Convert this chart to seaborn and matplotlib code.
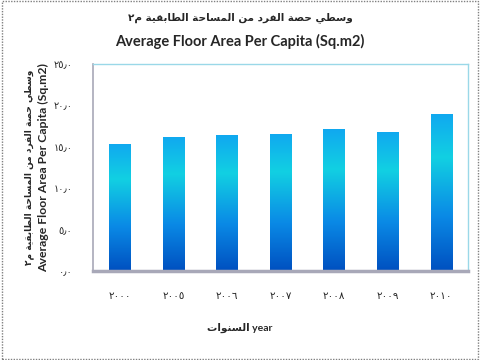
import numpy as np
import pandas as pd
import seaborn as sns
import matplotlib.pyplot as plt
from matplotlib.colors import LinearSegmentedColormap

# data
years = ['2000', '2005', '2006', '2007', '2008', '2009', '2010']
floor_area = [15.4, 16.2, 16.4, 16.6, 17.1, 16.8, 19.0]
y_ticks = [0, 5, 10, 15, 20, 25]

title_ar = 'وسطي حصة الفرد من المساحة الطابقية م٢'
title_en = 'Average Floor Area Per Capita (Sq.m2)'
xlabel_ar = 'السنوات'

# minimal arabic shaping (matplotlib has no complex text layout)
FORMS = {  # isolated, final, initial, medial
    'ا': (0xFE8D, 0xFE8E, None, None), 'ب': (0xFE8F, 0xFE90, 0xFE91, 0xFE92),
    'ة': (0xFE93, 0xFE94, None, None), 'ت': (0xFE95, 0xFE96, 0xFE97, 0xFE98),
    'ح': (0xFEA1, 0xFEA2, 0xFEA3, 0xFEA4), 'د': (0xFEA9, 0xFEAA, None, None),
    'ر': (0xFEAD, 0xFEAE, None, None), 'س': (0xFEB1, 0xFEB2, 0xFEB3, 0xFEB4),
    'ص': (0xFEB9, 0xFEBA, 0xFEBB, 0xFEBC), 'ط': (0xFEC1, 0xFEC2, 0xFEC3, 0xFEC4),
    'ف': (0xFED1, 0xFED2, 0xFED3, 0xFED4), 'ق': (0xFED5, 0xFED6, 0xFED7, 0xFED8),
    'ل': (0xFEDD, 0xFEDE, 0xFEDF, 0xFEE0), 'م': (0xFEE1, 0xFEE2, 0xFEE3, 0xFEE4),
    'ن': (0xFEE5, 0xFEE6, 0xFEE7, 0xFEE8), 'و': (0xFEED, 0xFEEE, None, None),
    'ي': (0xFEF1, 0xFEF2, 0xFEF3, 0xFEF4),
}


def shape(text):
    out = []
    for i, ch in enumerate(text):
        if ch not in FORMS:
            out.append(ch)
            continue
        prev = text[i - 1] if i > 0 else ''
        nxt = text[i + 1] if i + 1 < len(text) else ''
        joins_prev = prev in FORMS and FORMS[prev][2] is not None
        joins_next = nxt in FORMS and FORMS[ch][2] is not None
        iso, fin, ini, med = FORMS[ch]
        if joins_prev and joins_next:
            code = med
        elif joins_prev:
            code = fin
        elif joins_next:
            code = ini
        else:
            code = iso
        out.append(chr(code))
    return ''.join(out)[::-1]


AR_DIGITS = str.maketrans('0123456789.', '٠١٢٣٤٥٦٧٨٩٫')

df = pd.DataFrame({'year': years, 'area': floor_area})

sns.set_style('white')
plt.rcParams['font.family'] = ['Lato', 'DejaVu Sans']

fig = plt.figure(figsize=(4.8, 3.6), dpi=100)
ax = fig.add_axes([0.194, 0.247, 0.781, 0.575])

sns.barplot(data=df, x='year', y='area', width=0.4, color='#00a0e8', ax=ax)

# gradient fill clipped to each bar
cmap = LinearSegmentedColormap.from_list(
    'bar', [(0.0, '#0050c0'), (0.35, '#0a8ae6'), (0.72, '#12d0e2'), (1.0, '#10a8f0')])
grad = np.linspace(0, 1, 256).reshape(-1, 1)
for patch in ax.patches:
    x0, y0 = patch.get_x(), patch.get_y()
    w, h = patch.get_width(), patch.get_height()
    patch.set_facecolor('none')
    patch.set_edgecolor('none')
    img = ax.imshow(grad, cmap=cmap, origin='lower', aspect='auto',
                    extent=[x0, x0 + w, y0, y0 + h], zorder=2)
    img.set_clip_path(patch)

ax.set_xlim(-0.5, len(years) - 0.5)
ax.set_ylim(0, 25)
ax.set_yticks(y_ticks)
ax.set_yticklabels([f'{v:.1f}'.translate(AR_DIGITS) for v in y_ticks],
                   fontsize=7, family='DejaVu Sans')
ax.set_xticks(range(len(years)))
ax.set_xticklabels([y.translate(AR_DIGITS) for y in years], fontsize=7.5,
                   family='DejaVu Sans')
ax.tick_params(axis='y', pad=12, length=3, color='#a0a0a0', direction='out')
ax.tick_params(axis='x', pad=14, length=0)
ax.set_xlabel('')
ax.set_ylabel('')

for side in ['left', 'bottom']:
    ax.spines[side].set_color('#a8a8b8')
ax.spines['bottom'].set_linewidth(2.5)
ax.spines['left'].set_linewidth(1.2)
for side in ['top', 'right']:
    ax.spines[side].set_color('#9ad8e8')
    ax.spines[side].set_linewidth(1)

# titles
fig.text(0.5, 0.952, shape(title_ar), ha='center', va='center',
         fontsize=7.5, fontweight='bold', family='DejaVu Sans')
fig.text(0.5, 0.886, title_en, ha='center', va='center', fontsize=10.5, fontweight='bold')

# y axis title, two lines
fig.text(0.060, 0.535, shape(title_ar), rotation=90, ha='center', va='center',
         fontsize=6.5, fontweight='bold', family='DejaVu Sans')
fig.text(0.090, 0.535, title_en, rotation=90, ha='center', va='center',
         fontsize=8.8, fontweight='bold')

# x axis title
fig.text(0.50, 0.088, shape(xlabel_ar) + ' year', ha='center', va='center',
         fontsize=7.5, fontweight='bold')

# dashed frame around the whole chart
fig.patches.append(plt.Rectangle((0.004, 0.004), 0.992, 0.992, transform=fig.transFigure,
                                 fill=False, edgecolor='#808080', linestyle=(0, (1, 1)),
                                 linewidth=1))

fig.savefig('out.png', dpi=100)
